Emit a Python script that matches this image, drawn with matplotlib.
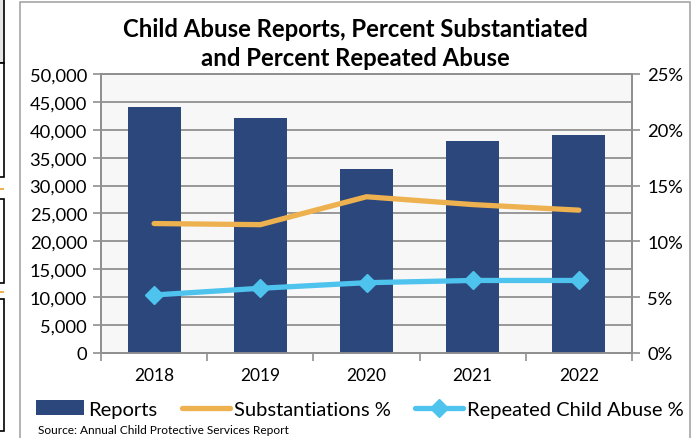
import matplotlib
matplotlib.use("Agg")
import matplotlib.pyplot as plt
from matplotlib.patches import Rectangle
from matplotlib.lines import Line2D
from matplotlib.ticker import FuncFormatter, MultipleLocator

years = ["2018", "2019", "2020", "2021", "2022"]
reports = [44000, 42200, 32900, 38000, 39000]
substantiated = [11.6, 11.5, 14.0, 13.3, 12.8]
repeated = [5.2, 5.8, 6.3, 6.5, 6.5]

navy = "#2C477B"
orange = "#EDB14F"
sky = "#4DC3EE"
grid_col = "#909090"

plt.rcParams['font.family'] = ['Lato', 'DejaVu Sans']

fig = plt.figure(figsize=(6.94, 4.39), dpi=100)
W, H = 694, 439

def px(x0, y0, w, h, **kw):
    # rectangle in pixel coords (top-left origin)
    r = Rectangle((x0 / W, 1 - (y0 + h) / H), w / W, h / H, transform=fig.transFigure, zorder=-5, **kw)
    fig.add_artist(r)

# bits of neighbouring boxes cut off at the left edge
px(-5, -2, 9, 66, facecolor="#E6E6E6", edgecolor="black", lw=1.2)
px(-5, 64, 9, 114, facecolor="white", edgecolor="black", lw=1.2)
px(-5, 200, 9, 84, facecolor="white", edgecolor="black", lw=1.2)
px(-5, 300, 9, 132, facecolor="white", edgecolor="black", lw=1.2)
px(0, 189, 4, 2, facecolor=orange, edgecolor="none")
px(0, 292, 4, 2, facecolor=orange, edgecolor="none")

# chart frame
px(20, 3, 670, 445, facecolor="white", edgecolor="#A6A6A6", lw=1.2)

ax = fig.add_axes([101 / W, 1 - 354 / H, 531 / W, 279 / H])
ax.set_facecolor("#F7F7F7")
x = list(range(len(years)))
ax.bar(x, reports, width=0.5, color=navy, zorder=3, label="Reports")
ax.set_xlim(-0.5, len(years) - 0.5)
ax.set_ylim(0, 50000)
ax.yaxis.set_major_locator(MultipleLocator(5000))
ax.yaxis.set_major_formatter(FuncFormatter(lambda v, p: f"{int(v):,}"))
ax.grid(axis="y", color=grid_col, lw=1.3, zorder=0)
ax.set_xticks(x)
ax.set_xticklabels(years, fontsize=12.5)
ax.set_xticks([i + 0.5 for i in x[:-1]] + [-0.5, len(years) - 0.5], minor=True)
ax.tick_params(axis="x", which="major", length=0, pad=10)
ax.tick_params(axis="x", which="minor", length=6, color=grid_col, width=1.2)
ax.tick_params(axis="y", length=6, color=grid_col, width=1.2, labelsize=13.2, pad=4)
for s in ax.spines.values():
    s.set_color(grid_col)
    s.set_linewidth(1.3)

ax2 = ax.twinx()
ax2.set_ylim(0, 25)
ax2.yaxis.set_major_locator(MultipleLocator(5))
ax2.yaxis.set_major_formatter(FuncFormatter(lambda v, p: f"{int(v)}%"))
ax2.tick_params(axis="y", length=6, color=grid_col, width=1.2, labelsize=13.2, pad=5)
for s in ax2.spines.values():
    s.set_color(grid_col)
    s.set_linewidth(1.3)
ax2.plot(x, substantiated, color=orange, lw=3.8, solid_capstyle="round", zorder=4)
ax2.plot(x, repeated, color=sky, lw=3.8, marker="D", markersize=9, solid_capstyle="round", zorder=5)

fig.text(355 / W, 1 - 44 / H, "Child Abuse Reports, Percent Substantiated\nand Percent Repeated Abuse",
         ha="center", va="center", fontsize=17.2, fontweight="bold", linespacing=1.32)

handles = [
    Rectangle((0, 0), 1, 1, facecolor=navy),
    Line2D([], [], color=orange, lw=3.8, solid_capstyle="round"),
    Line2D([], [], color=sky, lw=3.8, marker="D", markersize=9, solid_capstyle="round"),
]
fig.legend(handles, ["Reports", "Substantiations %", "Repeated Child Abuse %"],
           loc="center", bbox_to_anchor=(360 / W, 1 - 410 / H), ncol=3, frameon=False,
           fontsize=14.5, handlelength=2.4, handletextpad=0.2, columnspacing=1.2)

fig.text(38 / W, 1 - 431 / H, "Source: Annual Child Protective Services Report",
         ha="left", va="center", fontsize=8.6)

fig.savefig("out.png", dpi=100)
